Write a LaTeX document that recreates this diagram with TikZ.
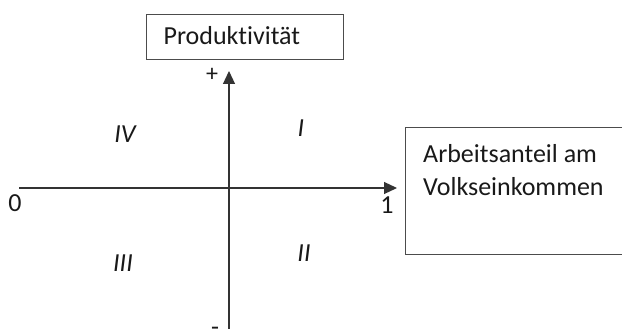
\documentclass[tikz,border=0pt]{standalone}
\usepackage{fontspec}
\setmainfont{Carlito}[Ligatures={NoCommon}]
\usetikzlibrary{arrows.meta}
\begin{document}
\begin{tikzpicture}[x=1pt,y=-1pt,
  every node/.style={font=\fontsize{26}{33}\selectfont, text=black!90},
  labelbox/.style={draw=black!70, line width=1.2pt, rectangle, anchor=north west},
  axis/.style={draw=black!80, line width=1.2pt, -{Triangle[length=13pt,width=12pt]}},
  quadrant/.style={font=\fontsize{26}{33}\selectfont\itshape}]
  % canvas
  \useasboundingbox (0,0) rectangle (622,329);
  \clip (0,0) rectangle (622,329);

  % label boxes
  \node[labelbox, minimum width=197pt, minimum height=45pt, text width=163pt,
        inner xsep=17pt, inner ysep=0pt, align=left, text depth=3pt]
        (prod) at (146,14) {Produktivität};
  \node[labelbox, minimum width=240pt, minimum height=127pt, inner sep=0pt] (share) at (405,127) {};
  \node[anchor=north west, inner sep=0pt, align=left] (sharetext)
        at ([xshift=18pt,yshift=-17pt]share.north west) {Arbeitsanteil am\\Volkseinkommen};

  % axes
  \coordinate (xstart) at (19,188);
  \coordinate (xend)   at (397,188);
  \coordinate (ybot)   at (229,340);
  \coordinate (ytop)   at (229,71);
  \draw[axis] (xstart) -- (xend);
  \draw[axis] (ybot) -- (ytop);

  % axis labels
  \node (zero)  at (15,203) {0};
  \node (one)   at (387,205) {1};
  \node[font=\fontsize{24}{26}\selectfont] (plus) at (212,75) {+};
  \node (minus) at (215,331) {-};

  % quadrants
  \node[quadrant] (q4)   at (125,134) {IV};
  \node[quadrant] (q1)   at (301,128) {I};
  \node[quadrant] (q3)   at (123,263) {III};
  \node[quadrant] (q2)   at (304,253) {II};
\end{tikzpicture}
\end{document}
